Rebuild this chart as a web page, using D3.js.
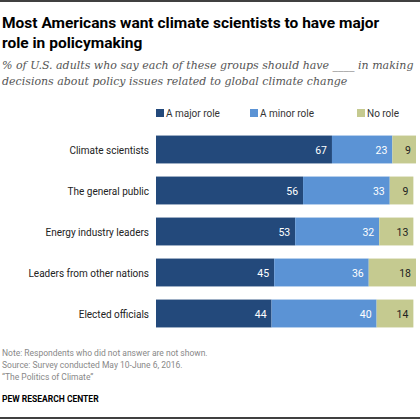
<!DOCTYPE html><html><head><meta charset="utf-8"><script src="https://cdn.jsdelivr.net/npm/d3@7"></script>
<style>body{margin:0;background:#fff}</style></head><body><svg id="c" width="420" height="420"></svg>
<script>
const categories=["Climate scientists","The general public","Energy industry leaders","Leaders from other nations","Elected officials"];
const series=["A major role","A minor role","No role"];
const major=[67,56,53,45,44];
const minor=[23,33,32,36,40];
const none=[9,9,13,18,14];
const colors=["#23497b","#5b93d5","#c5ca90"];
const textColors=["#fff","#fff","#222"];
const svg=d3.select("#c");
svg.append("line").attr("x1",0).attr("x2",420).attr("y1",1).attr("y2",1).attr("stroke","#000").attr("stroke-width",1.5);
svg.append("line").attr("x1",0).attr("x2",420).attr("y1",418).attr("y2",418).attr("stroke","#000").attr("stroke-width",1.5);
const t=svg.append("text").attr("font-family","Roboto, Arial, sans-serif").attr("font-weight","bold").attr("font-size",15.5).attr("fill","#000");
t.append("tspan").attr("x",2).attr("y",28).text("Most Americans want climate scientists to have major");
t.append("tspan").attr("x",2).attr("y",48).text("role in policymaking");
const s=svg.append("text").attr("font-family","DejaVu Serif, Georgia, serif").attr("font-style","italic").attr("font-size",11).attr("fill","#555");
s.append("tspan").attr("x",2).attr("y",69).text("% of U.S. adults who say each of these groups should have ____ in making");
s.append("tspan").attr("x",2).attr("y",85).text("decisions about policy issues related to global climate change");
const x=d3.scaleLinear().domain([0,99]).range([156,416]);
const y=d3.scaleBand().domain(categories).range([129,334]).paddingInner(0.32).paddingOuter(0.16);
const data=categories.map((c,i)=>({c,v:[major[i],minor[i],none[i]]}));
const lg=[156,250,357];
series.forEach((k,j)=>{
 svg.append("rect").attr("x",lg[j]).attr("y",109).attr("width",8).attr("height",8).attr("fill",colors[j]);
 svg.append("text").attr("x",lg[j]+10).attr("y",117).attr("font-family","Roboto, Arial, sans-serif").attr("font-size",10).attr("fill","#333").text(k);
});
data.forEach(d=>{
 let acc=0;
 const yy=y(d.c),h=y.bandwidth();
 svg.append("text").attr("x",149).attr("y",yy+h/2+4).attr("text-anchor","end").attr("font-family","Roboto, Arial, sans-serif").attr("font-size",10).attr("fill","#222").text(d.c);
 d.v.forEach((v,j)=>{
  svg.append("rect").attr("x",x(acc)).attr("y",yy).attr("width",x(acc+v)-x(acc)).attr("height",h).attr("fill",colors[j]);
  acc+=v;
  svg.append("text").attr("x",x(acc)-5).attr("y",yy+h/2+4).attr("text-anchor","end").attr("font-family","Roboto, Arial, sans-serif").attr("font-size",10.5).attr("fill",textColors[j]).text(v);
 });
});
const n=svg.append("text").attr("font-family","Roboto, Arial, sans-serif").attr("font-size",8.5).attr("fill","#888");
["Note: Respondents who did not answer are not shown.","Source: Survey conducted May 10-June 6, 2016.","\u201cThe Politics of Climate\u201d"].forEach((l,i)=>n.append("tspan").attr("x",2).attr("y",356+i*12).text(l));
svg.append("text").attr("x",2).attr("y",402).attr("font-family","Roboto, Arial, sans-serif").attr("font-weight","bold").attr("font-size",8.5).attr("fill","#000").text("PEW RESEARCH CENTER");
</script></body></html>
